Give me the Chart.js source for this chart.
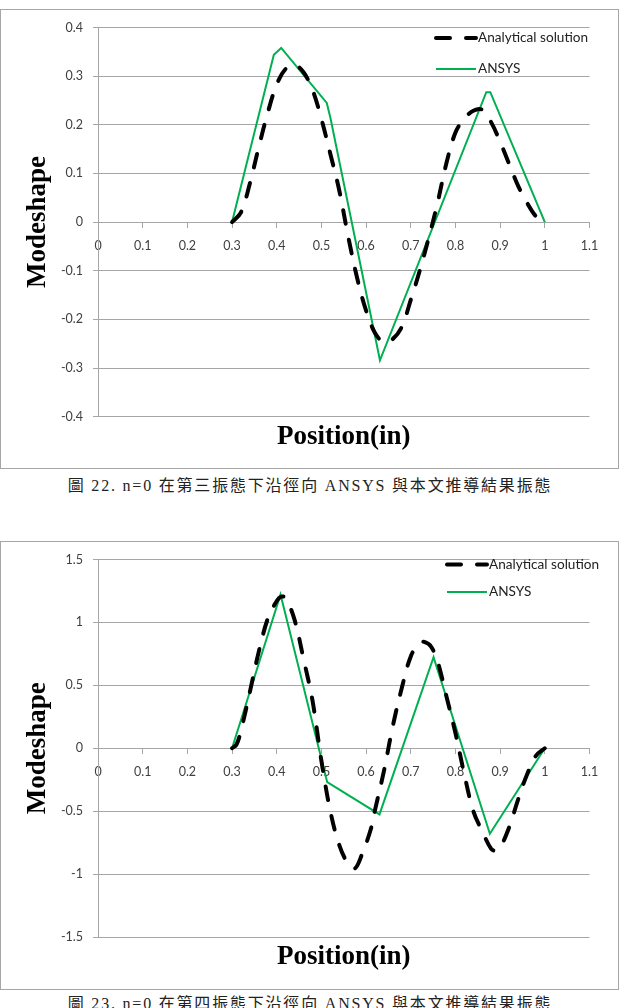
<!DOCTYPE html>
<html>
<head>
<meta charset="utf-8">
<script src="https://cdn.jsdelivr.net/npm/chart.js@4.4.1/dist/chart.umd.min.js"></script>
<style>
  html, body { margin: 0; padding: 0; background: #fff; }
  body { width: 620px; height: 1008px; position: relative; overflow: hidden; }
  .frame { position: absolute; left: 0; width: 619px; border: 1.5px solid #a6a6a6; box-sizing: border-box; }
  canvas { position: absolute; left: 0; }
  .caption {
    position: absolute; left: 0; width: 620px; text-align: center;
    font-family: "Liberation Serif", "Noto Sans CJK TC", serif;
    font-size: 16px; letter-spacing: 1.8px; color: #222; line-height: 20px;
  }
</style>
</head>
<body>
<div class="frame" style="top:9px;height:460px"></div>
<canvas id="c1" width="618" height="457" style="top:10px"></canvas>
<div class="caption" style="top:476px">圖 22. n=0 在第三振態下沿徑向 ANSYS 與本文推導結果振態</div>

<div class="frame" style="top:541px;height:449px"></div>
<canvas id="c2" width="618" height="446" style="top:542px"></canvas>
<div class="caption" style="top:994px">圖 23. n=0 在第四振態下沿徑向 ANSYS 與本文推導結果振態</div>

<script>
// x ticks shared by both charts
const xTickValues = [0, 0.1, 0.2, 0.3, 0.4, 0.5, 0.6, 0.7, 0.8, 0.9, 1, 1.1]
const xTickLabels = ['0', '0.1', '0.2', '0.3', '0.4', '0.5', '0.6', '0.7', '0.8', '0.9', '1', '1.1']

// Fig 22 - third mode
const yTicks1 = [-0.4, -0.3, -0.2, -0.1, 0, 0.1, 0.2, 0.3, 0.4]
const yLabels1 = ['-0.4', '-0.3', '-0.2', '-0.1', '0', '0.1', '0.2', '0.3', '0.4']
const analytic1X = [0.30, 0.32, 0.34, 0.36, 0.38, 0.40, 0.42, 0.44, 0.46, 0.48, 0.50, 0.52, 0.54, 0.56, 0.58, 0.60,
  0.62, 0.64, 0.66, 0.68, 0.70, 0.72, 0.74, 0.76, 0.78, 0.80, 0.82, 0.84, 0.86, 0.88, 0.90, 0.92, 0.94, 0.96, 0.98, 1.00]
const analytic1Y = [0, 0.02, 0.08, 0.155, 0.225, 0.283, 0.315, 0.323, 0.308, 0.272, 0.212, 0.14, 0.065, -0.03, -0.115, -0.182,
  -0.228, -0.247, -0.24, -0.215, -0.16, -0.1, -0.033, 0.04, 0.122, 0.184, 0.213, 0.229, 0.231, 0.205, 0.165, 0.12, 0.075, 0.04, 0.012, 0]
const ansys1X = [0.3, 0.3935, 0.41, 0.512, 0.52, 0.631, 0.869, 0.878, 1.0]
const ansys1Y = [0, 0.344, 0.358, 0.245, 0.215, -0.284, 0.267, 0.267, 0]

// Fig 23 - fourth mode
const yTicks2 = [-1.5, -1, -0.5, 0, 0.5, 1, 1.5]
const yLabels2 = ['-1.5', '-1', '-0.5', '0', '0.5', '1', '1.5']
const analytic2X = [0.30, 0.31, 0.32, 0.34, 0.36, 0.38, 0.40, 0.41, 0.42, 0.44, 0.46, 0.48, 0.50, 0.52, 0.54, 0.56, 0.575,
  0.59, 0.61, 0.62, 0.64, 0.66, 0.68, 0.70, 0.72, 0.73, 0.745, 0.76, 0.78, 0.80, 0.82, 0.84, 0.86, 0.88, 0.89, 0.90,
  0.92, 0.94, 0.96, 0.98, 1.00]
const analytic2Y = [0, 0.03, 0.14, 0.45, 0.77, 1.03, 1.17, 1.205, 1.195, 1.02, 0.71, 0.38, -0.1, -0.5, -0.77, -0.92, -0.955,
  -0.85, -0.65, -0.49, -0.18, 0.18, 0.48, 0.73, 0.84, 0.845, 0.81, 0.69, 0.41, 0.12, -0.21, -0.5, -0.66, -0.8, -0.815, -0.79,
  -0.63, -0.41, -0.21, -0.06, 0]
const ansys2X = [0.3, 0.4085, 0.513, 0.63, 0.751, 0.877, 1.0]
const ansys2Y = [0, 1.222, -0.27, -0.526, 0.724, -0.679, 0]

const GRID = '#a6a6a6'
const TXT = '#404040'
const titleFont = { family: "'Liberation Serif', 'Times New Roman', serif", size: 27, weight: 'bold' }

Chart.defaults.font.family = "Lato, 'Open Sans', sans-serif"
Chart.defaults.font.size = 12.5
Chart.defaults.color = TXT

const pts = (xs, ys) => xs.map((x, i) => ({ x: x, y: ys[i] }))

// legend drawn inside the plot, top right, like the Excel original
const insideLegend = {
  id: 'insideLegend',
  afterDatasetsDraw(chart, args, opts) {
    const ctx = chart.ctx
    const area = chart.chartArea
    ctx.save()
    ctx.font = '13.6px Lato'
    ctx.textBaseline = 'middle'
    ctx.textAlign = 'left'
    chart.data.datasets.forEach((ds, i) => {
      const y = area.top + opts.top + i * opts.rowGap
      ctx.beginPath()
      ctx.setLineDash(ds.borderDash || [])
      ctx.lineCap = ds.borderCapStyle || 'butt'
      ctx.lineWidth = ds.borderWidth
      ctx.strokeStyle = ds.borderColor
      ctx.moveTo(opts.left, y)
      ctx.lineTo(opts.left + opts.sample, y)
      ctx.stroke()
      ctx.setLineDash([])
      ctx.fillStyle = '#222'
      ctx.fillText(ds.label, opts.left + opts.sample + 2, y)
    })
    ctx.restore()
  }
}

function makeChart(id, cfg) {
  const ctx = document.getElementById(id).getContext('2d')
  return new Chart(ctx, {
    type: 'line',
    data: {
      datasets: [
        {
          label: 'Analytical solution',
          data: pts(cfg.aX, cfg.aY),
          borderColor: '#000000',
          borderWidth: 4,
          borderDash: [14, 16],
          borderCapStyle: 'round',
          tension: 0.35,
          pointRadius: 0,
          xAxisID: 'x',
          yAxisID: 'y'
        },
        {
          label: 'ANSYS',
          data: pts(cfg.sX, cfg.sY),
          borderColor: '#00b050',
          borderWidth: 2,
          tension: 0,
          pointRadius: 0,
          xAxisID: 'x',
          yAxisID: 'y'
        }
      ]
    },
    options: {
      responsive: false,
      animation: false,
      layout: { padding: { left: 21.8, right: 28.5, top: cfg.top, bottom: 10 } },
      plugins: {
        legend: { display: false },
        tooltip: { enabled: false },
        insideLegend: cfg.legend
      },
      scales: {
        x: {
          type: 'linear',
          position: 'bottom',
          min: 0,
          max: 1.1,
          afterFit: (s) => { s.height = cfg.xHeight },
          grid: { display: false },
          border: { display: false },
          ticks: { display: false },
          title: { display: true, text: 'Position(in)', font: titleFont, color: '#000', padding: { top: 0, bottom: cfg.titlePad } }
        },
        xz: {
          type: 'linear',
          position: { y: 0 },
          min: 0,
          max: 1.1,
          afterBuildTicks: (s) => { s.ticks = xTickValues.map(v => ({ value: v })) },
          afterFit: (s) => { s.height = 0 },
          grid: { drawOnChartArea: false, color: GRID, tickLength: 5 },
          border: { color: GRID },
          ticks: { padding: 11, maxRotation: 0, autoSkip: false, callback: (v, i) => xTickLabels[i] }
        },
        y: {
          type: 'linear',
          min: cfg.yMin,
          max: cfg.yMax,
          afterBuildTicks: (s) => { s.ticks = cfg.yTicks.map(v => ({ value: v })) },
          afterFit: (s) => { s.width = 76.2 },
          grid: { color: GRID, tickLength: 5 },
          border: { color: GRID },
          ticks: { padding: 10, callback: (v, i) => cfg.yLabels[i] },
          title: { display: true, text: 'Modeshape', font: titleFont, color: '#000', padding: 0 }
        }
      }
    },
    plugins: [insideLegend]
  })
}

makeChart('c1', {
  aX: analytic1X, aY: analytic1Y, sX: ansys1X, sY: ansys1Y,
  yMin: -0.4, yMax: 0.4, yTicks: yTicks1, yLabels: yLabels1,
  top: 16.7, xHeight: 40.3, titlePad: 4.1,
  legend: { left: 436, top: 10.6, rowGap: 31, sample: 40 }
})

makeChart('c2', {
  aX: analytic2X, aY: analytic2Y, sX: ansys2X, sY: ansys2Y,
  yMin: -1.5, yMax: 1.5, yTicks: yTicks2, yLabels: yLabels2,
  top: 16.3, xHeight: 41, titlePad: 5.1,
  legend: { left: 447, top: 5, rowGap: 27.4, sample: 40 }
})
</script>
</body>
</html>
